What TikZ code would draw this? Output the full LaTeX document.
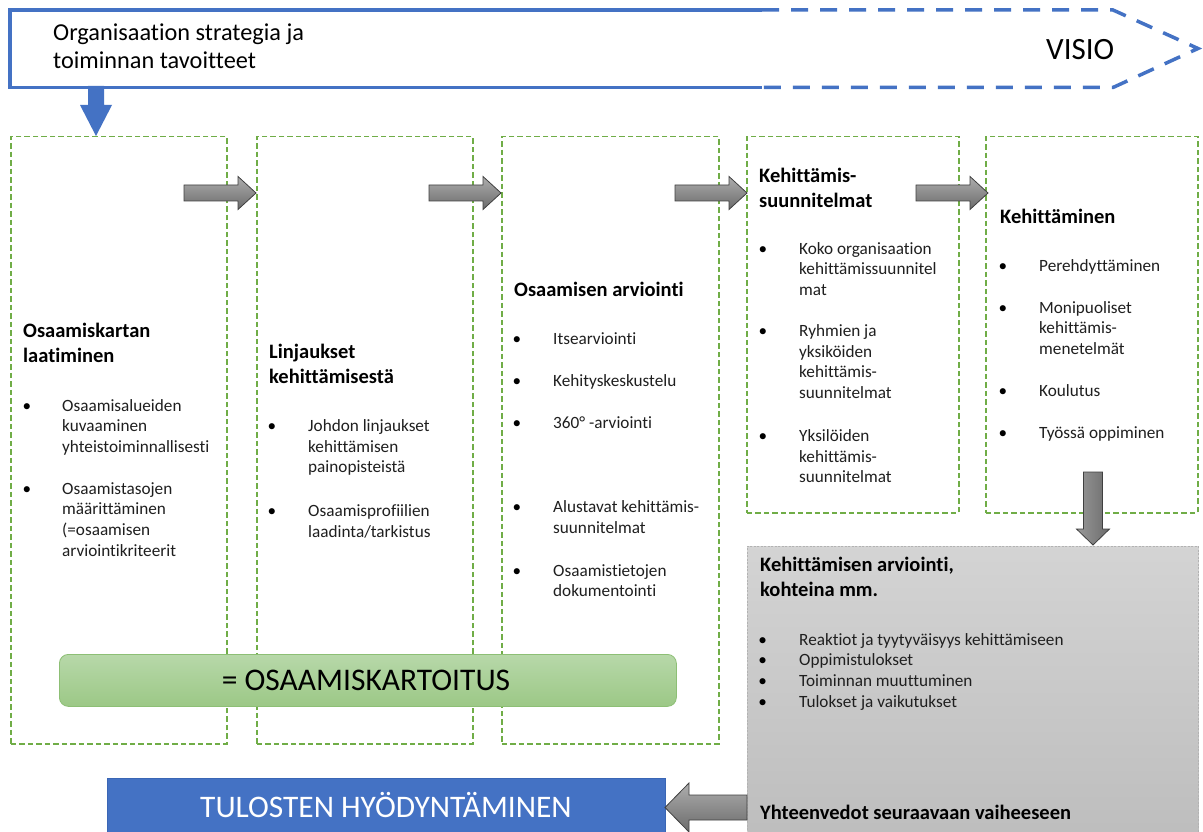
\documentclass[tikz,border=0pt]{standalone}
\usepackage{fontspec}
\setmainfont{Carlito}[Ligatures={NoCommon}]
\usetikzlibrary{shadings}
\definecolor{vblue}{HTML}{4472C4}
\definecolor{vblueb}{HTML}{3A66B5}
\definecolor{vgreen}{HTML}{70AD47}
\definecolor{gtop}{HTML}{B7D8A9}
\definecolor{gbot}{HTML}{9CC886}
\definecolor{gdraw}{HTML}{8DBF75}
\definecolor{garrowdraw}{HTML}{404040}
\newcommand\bodyfont{\fontsize{17.2}{20.6}\selectfont}
\newcommand\headfont{\bfseries\fontsize{20.5}{25}\selectfont}
% multi-line nodes are anchored at the baseline of their LAST line
\tikzset{
  colbox/.style={draw=vgreen, line width=1.5pt, dash pattern=on 5.5pt off 3pt, inner sep=0pt, anchor=north west},
  body/.style={anchor=base west, inner sep=0pt, align=left, font=\bodyfont, text=black!88},
  head/.style={anchor=base west, inner sep=0pt, align=left, font=\headfont},
  bul/.style={anchor=base, inner sep=0pt, font=\bodyfont},
  garrow/.style={draw=garrowdraw, line width=0.8pt, top color=black!32, bottom color=black!58},
  garrowv/.style={draw=garrowdraw, line width=0.8pt, left color=black!40, right color=black!58},
  banner/.style={draw=vblue, line width=3.5pt}
}
\begin{document}
\begin{tikzpicture}[x=1pt,y=-1pt]
\useasboundingbox (0,0) rectangle (1203,832);
\clip (0,0) rectangle (1203,832);
\fill[white] (0,0) rectangle (1203,832);

% banner
\draw[banner] (762,10) -- (10,10) -- (10,87.5) -- (762,87.5);
\draw[banner, dash pattern=on 17pt off 12pt] (762,10) -- (1113,10) -- (1198,48.5) -- (1113,87.5) -- (762,87.5);
\node[anchor=base west, inner sep=0pt, align=left, font=\fontsize{24.3}{27.6}\selectfont] (strat) at (53,68.3) {Organisaation strategia ja\\toiminnan tavoitteet};
\node[anchor=base west, inner sep=0pt, font=\fontsize{31}{36}\selectfont] (visio) at (1046,59.3) {VISIO};

% columns
\node[colbox, minimum width=216pt, minimum height=607pt] (c1) at (10,136) {};
\node[colbox, minimum width=216pt, minimum height=607pt] (c2) at (256,136) {};
\node[colbox, minimum width=217pt, minimum height=607pt] (c3) at (501,136) {};
\node[colbox, minimum width=212pt, minimum height=376pt] (c4) at (746,136) {};
\node[colbox, minimum width=212pt, minimum height=376pt] (c5) at (985,136) {};

% blue down arrow
\fill[vblue] (96,136) -- (80,105) -- (88,105) -- (88,86) -- (104,86) -- (104,105) -- (112,105) -- cycle;

% grey right arrows
\foreach \tx/\nm in {256/a1, 501/a2, 747/a3, 988/a4}{
  \coordinate (\nm) at (\tx,193);
  \draw[garrow] (\nm) -- ++(-18,-16.5) -- ++(0,8.5) -- ++(-54,0) -- ++(0,16) -- ++(54,0) -- ++(0,8.5) -- cycle;
}

% column 1
\node[head] (h1) at (23,362) {Osaamiskartan\\laatiminen};
\node[bul] (b1a) at (27,411) {•};
\node[body] (t1a) at (62,452.2) {Osaamisalueiden\\kuvaaminen\\yhteistoiminnallisesti};
\node[bul] (b1b) at (27,494.3) {•};
\node[body] (t1b) at (62,556.1) {Osaamistasojen\\määrittäminen\\(=osaamisen\\arviointikriteerit};

% column 2
\node[head] (h2) at (269,383) {Linjaukset\\kehittämisestä};
\node[bul] (b2a) at (272,431.7) {•};
\node[body] (t2a) at (308,472.9) {Johdon linjaukset\\kehittämisen\\painopisteistä};
\node[bul] (b2b) at (272,516.7) {•};
\node[body] (t2b) at (308,537.3) {Osaamisprofiilien\\laadinta/tarkistus};

% column 3
\node[head] (h3) at (514,296.7) {Osaamisen arviointi};
\node[bul] (b3a) at (517,344) {•};
\node[body] (t3a) at (553,344) {Itsearviointi};
\node[bul] (b3b) at (517,386.7) {•};
\node[body] (t3b) at (553,386.7) {Kehityskeskustelu};
\node[bul] (b3c) at (517,428.3) {•};
\node[body] (t3c) at (553,428.3) {360° -arviointi};
\node[bul] (b3d) at (517,512.7) {•};
\node[body] (t3d) at (553,533.3) {Alustavat kehittämis-\\suunnitelmat};
\node[bul] (b3e) at (517,576) {•};
\node[body] (t3e) at (553,596.6) {Osaamistietojen\\dokumentointi};

% column 4
\node[head] (h4) at (759,207.5) {Kehittämis-\\suunnitelmat};
\node[bul] (b4a) at (763,254) {•};
\node[body] (t4a) at (799,295.2) {Koko organisaation\\kehittämissuunnitel\\mat};
\node[bul] (b4b) at (763,336.7) {•};
\node[body] (t4b) at (799,398.5) {Ryhmien ja\\yksiköiden\\kehittämis-\\suunnitelmat};
\node[bul] (b4c) at (763,441.7) {•};
\node[body] (t4c) at (799,482.9) {Yksilöiden\\kehittämis-\\suunnitelmat};

% column 5
\node[head] (h5) at (1000,223.3) {Kehittäminen};
\node[bul] (b5a) at (1003,271.7) {•};
\node[body] (t5a) at (1039,271.7) {Perehdyttäminen};
\node[bul] (b5b) at (1003,313.3) {•};
\node[body] (t5b) at (1039,354.5) {Monipuoliset\\kehittämis-\\menetelmät};
\node[bul] (b5c) at (1003,396.7) {•};
\node[body] (t5c) at (1039,396.7) {Koulutus};
\node[bul] (b5d) at (1003,438.3) {•};
\node[body] (t5d) at (1039,438.3) {Työssä oppiminen};

% grey evaluation box
\node[anchor=north west, inner sep=0pt, minimum width=451pt, minimum height=300pt,
      top color=black!17, bottom color=black!26, draw=black!30, line width=0.8pt, dash pattern=on 2pt off 1.5pt] (ev) at (747,546) {};
\draw[garrowv] (1093,545) -- ++(-16.5,-16) -- ++(7,0) -- ++(0,-57) -- ++(19,0) -- ++(0,57) -- ++(7,0) -- cycle;
\node[head] (hev) at (760,596.7) {Kehittämisen arviointi,\\kohteina mm.};
\foreach \yy/\tt/\nm in {645/{Reaktiot ja tyytyväisyys kehittämiseen}/e1, 665.7/Oppimistulokset/e2, 686.4/Toiminnan muuttuminen/e3, 707/Tulokset ja vaikutukset/e4}{
  \node[bul] (b\nm) at (762.7,\yy) {•};
  \node[body] (t\nm) at (799,\yy) {\tt};
}
\node[head] (yht) at (760,819.3) {Yhteenvedot seuraavaan vaiheeseen};

% green summary box
\node[anchor=north west, inner sep=0pt, minimum width=617pt, minimum height=52pt, rounded corners=9pt,
      top color=gtop, bottom color=gbot, draw=gdraw, line width=0.8pt] (osk) at (59,654) {};
\node[font=\fontsize{31.5}{36}\selectfont, inner sep=0pt, anchor=base] (oskt) at (366,690.5) {= OSAAMISKARTOITUS};

% blue result box
\node[anchor=north west, inner sep=0pt, minimum width=558pt, minimum height=70pt, fill=vblue, draw=vblueb, line width=0.8pt] (tul) at (107,778) {};
\node[font=\fontsize{31.4}{36}\selectfont, text=white, inner sep=0pt, anchor=base] (tult) at (386,817) {TULOSTEN HYÖDYNTÄMINEN};

% left arrow
\coordinate (la) at (665,807.5);
\draw[garrow] (la) -- ++(24,-24.5) -- ++(0,12) -- ++(58,0) -- ++(0,25) -- ++(-58,0) -- ++(0,12) -- cycle;
\end{tikzpicture}
\end{document}
